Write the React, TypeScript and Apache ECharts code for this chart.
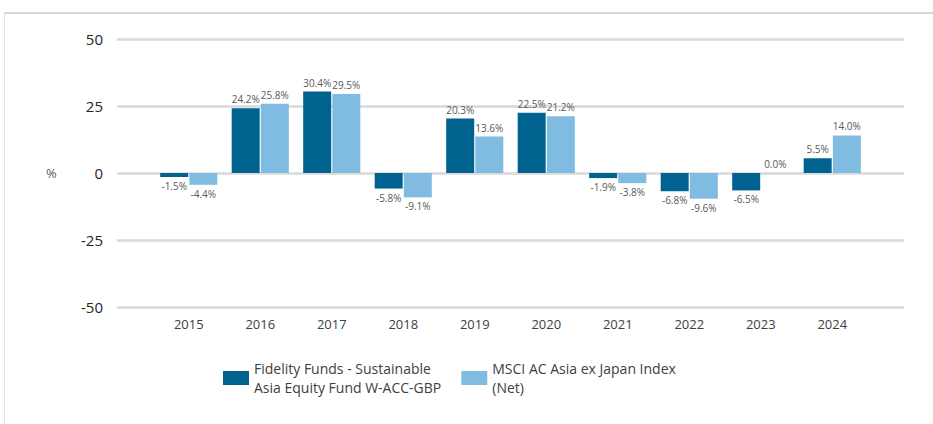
import React, { useEffect, useRef } from "react";
import * as echarts from "echarts";

const years = ["2015", "2016", "2017", "2018", "2019", "2020", "2021", "2022", "2023", "2024"];
const fundName = "Fidelity Funds - Sustainable\nAsia Equity Fund W-ACC-GBP";
const indexName = "MSCI AC Asia ex Japan Index\n(Net)";
const fundValues = [-1.5, 24.2, 30.4, -5.8, 20.3, 22.5, -1.9, -6.8, -6.5, 5.5];
const indexValues = [-4.4, 25.8, 29.5, -9.1, 13.6, 21.2, -3.8, -9.6, 0.0, 14.0];
const yTicks = [-50, -25, 0, 25, 50];

const DARK = "#00638f";
const LIGHT = "#80bbe1";
const FONT = "'Open Sans', 'DejaVu Sans', sans-serif";

function toData(vals: number[]) {
  return vals.map((v) => ({
    value: v,
    label: { position: v >= 0 ? "top" : "bottom" },
  }));
}

export default function App() {
  const ref = useRef<HTMLDivElement>(null);
  useEffect(() => {
    document.body.style.margin = "0";
    const chart = echarts.init(ref.current!, undefined, { renderer: "svg" });
    const labelCfg = {
      show: true,
      fontSize: 10,
      color: "#595959",
      fontFamily: FONT,
      distance: 4,
      formatter: (p: any) => Number(p.value).toFixed(1) + "%",
    };
    chart.setOption({
      animation: false,
      backgroundColor: "#ffffff",
      grid: [
        { left: 117, right: 29, top: 39, bottom: 117 },
        { left: 153, right: 65, top: 39, bottom: 117 },
      ],
      xAxis: [
        { type: "category", gridIndex: 0, data: years, show: false },
        {
          type: "category",
          gridIndex: 1,
          data: years,
          axisLine: { show: false },
          axisTick: { show: false },
          axisLabel: { color: "#404040", fontSize: 13, fontFamily: FONT, margin: 10 },
        },
      ],
      yAxis: [
        {
          type: "value",
          gridIndex: 0,
          min: yTicks[0],
          max: yTicks[yTicks.length - 1],
          interval: 25,
          axisLine: { show: false },
          axisTick: { show: false },
          axisLabel: { color: "#262626", fontSize: 15, fontFamily: FONT, margin: 14 },
          splitLine: { lineStyle: { color: "#d9d9d9", width: 2.5 } },
        },
        {
          type: "value",
          gridIndex: 1,
          min: yTicks[0],
          max: yTicks[yTicks.length - 1],
          interval: 25,
          show: false,
          splitLine: { show: false },
        },
      ],
      legend: {
        bottom: 22,
        left: 218,
        itemWidth: 26,
        itemHeight: 14,
        itemGap: 20,
        icon: "rect",
        textStyle: { color: "#404040", fontSize: 14, fontFamily: FONT, lineHeight: 19 },
        data: [fundName, indexName],
      },
      series: [
        {
          name: fundName,
          type: "bar",
          xAxisIndex: 1,
          yAxisIndex: 1,
          data: toData(fundValues),
          barWidth: 28,
          barGap: "4%",
          itemStyle: { color: DARK },
          label: labelCfg,
        },
        {
          name: indexName,
          type: "bar",
          xAxisIndex: 1,
          yAxisIndex: 1,
          data: toData(indexValues),
          barWidth: 28,
          barGap: "4%",
          itemStyle: { color: LIGHT },
          label: labelCfg,
        },
      ],
      graphic: [
        {
          type: "text",
          left: 8,
          top: -22,
          style: { text: "Past Performance", fill: "#1b6fae", fontSize: 24, fontFamily: FONT },
        },
        {
          type: "line",
          shape: { x1: 4, y1: 13, x2: 933, y2: 13 },
          style: { stroke: "#d6d6d6", lineWidth: 2 },
        },
        {
          type: "line",
          shape: { x1: 4.5, y1: 13, x2: 4.5, y2: 424 },
          style: { stroke: "#e2e2e2", lineWidth: 1 },
        },
        {
          type: "text",
          x: 46,
          y: 173,
          style: {
            text: "%",
            fill: "#595959",
            fontSize: 13,
            fontFamily: FONT,
            verticalAlign: "middle",
          },
        },
      ],
    });
    return () => chart.dispose();
  }, []);
  return <div ref={ref} style={{ width: 933, height: 424 }} />;
}
